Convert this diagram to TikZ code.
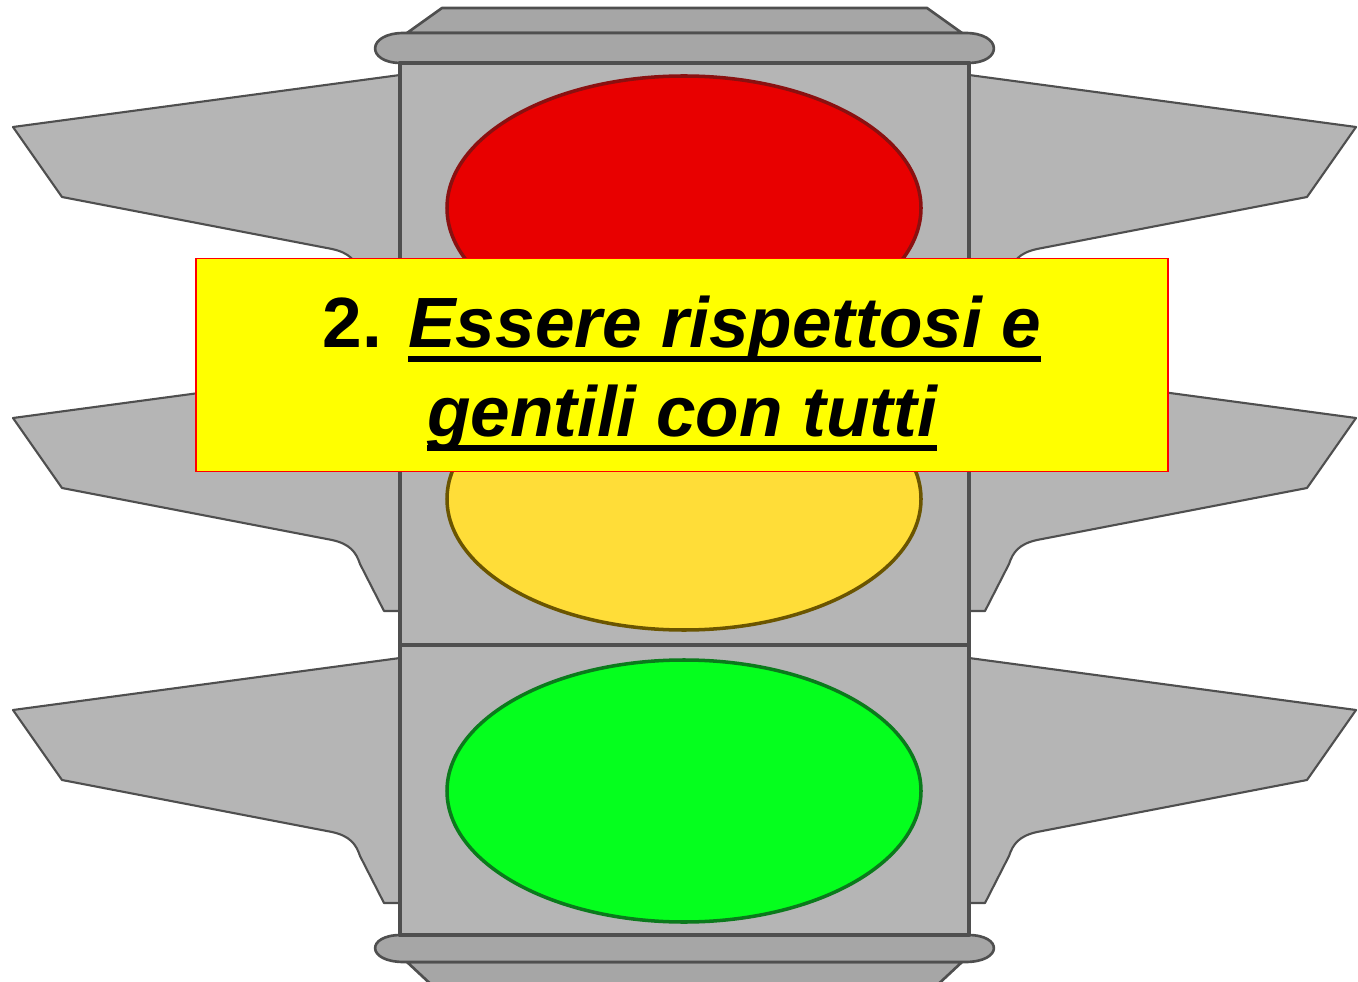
\documentclass[tikz,border=0pt]{standalone}
\usepackage{fontspec}
\setmainfont{Liberation Sans}
\usepackage{xcolor}
\usetikzlibrary{positioning}
\newcommand{\ulbar}[1]{\setbox0\hbox{#1}\rlap{\rule[-8.5pt]{\wd0}{3.4pt}}\box0}
\definecolor{bodygray}{HTML}{B5B5B5}
\definecolor{capgray}{HTML}{A6A6A6}
\definecolor{edgegray}{HTML}{4F4F4F}
\definecolor{redlamp}{HTML}{E80000}
\definecolor{redrim}{HTML}{8A1010}
\definecolor{yellowlamp}{HTML}{FFDD38}
\definecolor{yellowrim}{HTML}{6B5500}
\definecolor{greenlamp}{HTML}{05FF1E}
\definecolor{greenrim}{HTML}{0B7A1C}
\definecolor{boxyellow}{HTML}{FFFF00}

\begin{document}
\begin{tikzpicture}[x=0.02cm,y=-0.02cm,
  part/.style={fill=bodygray,draw=edgegray,line width=1.2pt,line join=round},
  capp/.style={fill=capgray,draw=edgegray,line width=1.5pt,line join=round},
  lamp/.style={line width=2pt}]
  \useasboundingbox (0,0) rectangle (1358,982);
  \foreach \t in {75,366,658}{
    \foreach \s/\m in {0/1,1369/-1}{
      \begin{scope}[shift={(\s,0)},xscale=\m]
        \draw[part] (400,\t) -- (13,\t+52) -- (62,\t+122) -- (332,\t+174)
          .. controls (350,\t+178) and (356,\t+186) .. (360,\t+198)
          -- (384,\t+245) -- (402,\t+245) -- cycle;
      \end{scope}
    }
  }
  \draw[capp] (442,8) -- (927,8) -- (962,33) -- (407,33) -- cycle;
  \draw[capp] (404,33) -- (965,33) .. controls (1003,33) and (1003,63) .. (968,63)
    -- (401,63) .. controls (366,63) and (366,33) .. cycle;
  \draw[capp] (407,962) -- (962,962) -- (932,990) -- (437,990) -- cycle;
  \draw[capp] (401,935) -- (968,935) .. controls (1003,935) and (1003,962) .. (965,962)
    -- (404,962) .. controls (366,962) and (366,935) .. cycle;
  \draw[part,line width=2.8pt] (400,63) rectangle (969,935);
  \draw[edgegray,line width=2pt] (400,354) -- (969,354) (400,645) -- (969,645);
  \draw[lamp,fill=redlamp,draw=redrim] (684,208) ellipse [x radius=237,y radius=132];
  \draw[lamp,fill=yellowlamp,draw=yellowrim] (684,499) ellipse [x radius=237,y radius=131];
  \draw[lamp,fill=greenlamp,draw=greenrim] (684,791) ellipse [x radius=237,y radius=131];
  \node[fill=boxyellow,draw=red,line width=0.8pt,minimum width=972*0.02cm,
    minimum height=213*0.02cm,inner sep=0pt] (motto) at (682,365) {};
  \node[align=center,font=\fontsize{40.5}{50.5}\selectfont\bfseries,inner sep=0pt]
    (mottotext) at ([yshift=-0.17cm]motto.center)
    {2. \ulbar{\itshape Essere rispettosi e}\\ \ulbar{\itshape gentili con tutti}};
\end{tikzpicture}
\end{document}
